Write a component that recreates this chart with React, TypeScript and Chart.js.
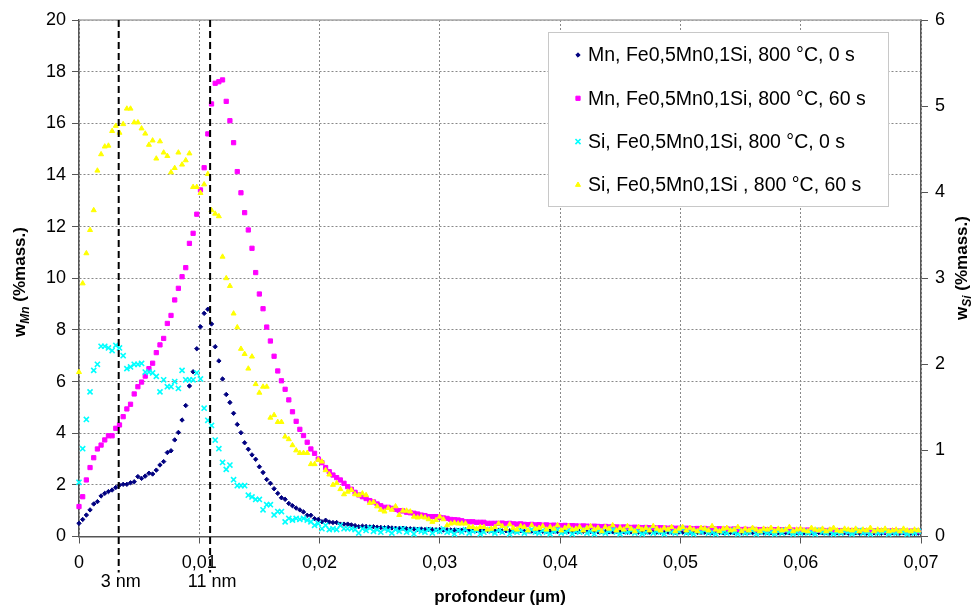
import React, { useEffect, useRef } from "react";
import { Chart, registerables } from "chart.js";

Chart.register(...registerables);

const FONT_FAMILY = '"Liberation Sans", Arial, Helvetica, sans-serif';

// sampling interval of the depth profile (µm)
const DEPTH_STEP_UM = 0.000306;

const X_MIN = 0;
const X_MAX = 0.07;
const X_STEP = 0.01;
const Y_LEFT_MAX = 20;
const Y_LEFT_STEP = 2;
const Y_RIGHT_MAX = 6;
const Y_RIGHT_STEP = 1;

const X_TITLE = "profondeur (µm)";
const Y_LEFT_TITLE = { base: "w", sub: "Mn", rest: " (%mass.)" };
const Y_RIGHT_TITLE = { base: "w", sub: "Si", rest: " (%mass.)" };

const MARKER_DEPTHS = [0.0033, 0.0109];
const MARKER_LABELS = ["3 nm", "11 nm"];

const SERIES_LABELS = [
  "Mn, Fe0,5Mn0,1Si, 800 °C, 0 s",
  "Mn, Fe0,5Mn0,1Si, 800 °C, 60 s",
  "Si, Fe0,5Mn0,1Si, 800 °C, 0 s",
  "Si, Fe0,5Mn0,1Si , 800 °C, 60 s",
];

// Mn, 0 s  (left axis, %mass.)
const MN_0S = [
  0.51, 0.66, 0.83, 1.03, 1.26, 1.35, 1.57, 1.67, 1.74, 1.80, 1.90, 1.99, 2.02, 2.02, 2.08, 2.12, 2.32, 2.25, 2.34, 2.45, 2.42, 2.57,
  2.77, 2.90, 3.25, 3.32, 3.74, 4.03, 4.51, 5.07, 5.83, 6.38, 7.27, 8.12, 8.64, 8.80, 8.23, 7.35, 6.80, 6.10, 5.50, 5.19,
  4.77, 4.34, 4.02, 3.63, 3.38, 3.16, 2.99, 2.70, 2.48, 2.21, 2.06, 1.85, 1.67, 1.50, 1.44, 1.28, 1.19, 1.10, 1.03, 0.95,
  0.82, 0.82, 0.69, 0.66, 0.57, 0.63, 0.56, 0.54, 0.54, 0.48, 0.48, 0.48, 0.45, 0.42, 0.38,
  0.40, 0.39, 0.37, 0.38, 0.36, 0.35, 0.34, 0.35, 0.33, 0.32, 0.31, 0.32, 0.30, 0.30, 0.29, 0.28, 0.29, 0.27, 0.28, 0.27, 0.26, 0.27, 0.25, 0.26,
  0.25, 0.25, 0.24, 0.24, 0.25, 0.23, 0.24, 0.23, 0.23, 0.22, 0.23, 0.22, 0.22, 0.23, 0.21, 0.22, 0.22, 0.21, 0.21, 0.22, 0.20, 0.21, 0.21, 0.20,
  0.21, 0.20, 0.20, 0.21, 0.20, 0.19, 0.20, 0.20, 0.19, 0.20, 0.19, 0.19, 0.20, 0.18, 0.19, 0.19, 0.18, 0.19, 0.19, 0.18, 0.18, 0.19, 0.18, 0.18,
  0.17, 0.18, 0.18, 0.17, 0.18, 0.17, 0.17, 0.18, 0.17, 0.17, 0.16, 0.17, 0.17, 0.16, 0.17, 0.17, 0.16, 0.16, 0.17, 0.16, 0.16, 0.17, 0.16, 0.15,
  0.16, 0.16, 0.15, 0.16, 0.16, 0.15, 0.16, 0.15, 0.15, 0.16, 0.15, 0.15, 0.16, 0.15, 0.14, 0.15, 0.15, 0.14, 0.15, 0.15, 0.14, 0.15, 0.14, 0.15,
  0.14, 0.15, 0.14, 0.14, 0.15, 0.14, 0.14, 0.13, 0.14, 0.14, 0.15, 0.14, 0.13, 0.14, 0.14, 0.13, 0.14, 0.13, 0.14, 0.14, 0.13, 0.13, 0.14, 0.13,
  0.14, 0.13, 0.13, 0.14, 0.13, 0.13, 0.12, 0.13,
];

// Mn, 60 s  (left axis, %mass.)
const MN_60S = [
  1.16, 1.54, 2.19, 2.67, 3.05, 3.39, 3.54, 3.74, 3.90, 3.90, 4.19, 4.32, 4.64, 4.94, 5.12, 5.52, 5.80, 5.98, 6.21, 6.50,
  6.71, 7.12, 7.42, 7.67, 8.25, 8.56, 9.16, 9.61, 10.06, 10.41, 11.35, 11.74, 12.48, 13.42, 14.28, 15.59, 16.75, 17.55, 17.61, 17.68,
  16.85, 16.10, 15.25, 14.13, 13.31, 12.54, 11.87, 11.16, 10.22, 9.39, 8.82, 8.11, 7.57, 6.98,
  6.41, 6.03, 5.70, 5.29, 4.83, 4.46, 4.15, 3.91, 3.65, 3.39, 3.22,
  3.00, 2.86, 2.67, 2.51, 2.38, 2.28, 2.19, 2.06, 1.93, 1.83, 1.71, 1.61, 1.54, 1.47, 1.39, 1.34, 1.26, 1.19, 1.13, 1.13,
  1.09, 1.05, 1.00, 0.99, 0.94, 0.92, 0.90, 0.87, 0.83, 0.81, 0.77, 0.77, 0.77, 0.74, 0.72, 0.70, 0.66, 0.65, 0.64, 0.61,
  0.57, 0.57, 0.57, 0.55, 0.55, 0.55, 0.51, 0.51, 0.51, 0.51,
  0.52, 0.50, 0.51, 0.49, 0.48, 0.49, 0.47, 0.46, 0.47, 0.45, 0.46, 0.44, 0.45, 0.43, 0.44, 0.43, 0.42, 0.43, 0.41, 0.42, 0.41, 0.40, 0.41, 0.40,
  0.39, 0.40, 0.39, 0.38, 0.39, 0.37, 0.38, 0.37, 0.36, 0.37, 0.36, 0.35, 0.36, 0.35, 0.34, 0.35, 0.34, 0.34, 0.33, 0.34, 0.33, 0.32, 0.33, 0.32,
  0.32, 0.31, 0.32, 0.31, 0.30, 0.31, 0.30, 0.31, 0.29, 0.30, 0.29, 0.30, 0.28, 0.29, 0.28, 0.29, 0.28, 0.27, 0.28, 0.27, 0.28, 0.27, 0.26, 0.27,
  0.26, 0.27, 0.26, 0.25, 0.26, 0.25, 0.26, 0.25, 0.24, 0.25, 0.24, 0.25, 0.24, 0.23, 0.24, 0.24, 0.23, 0.24, 0.23, 0.22, 0.23, 0.23, 0.22, 0.23,
  0.22, 0.23, 0.22, 0.21, 0.22, 0.22, 0.21, 0.22, 0.21, 0.21, 0.22, 0.20, 0.21, 0.21, 0.20, 0.21, 0.20, 0.21,
];

// Si, 0 s  (right axis, %mass.)
const SI_0S = [
  0.63, 1.02, 1.36, 1.68, 1.93, 2.00, 2.21, 2.21, 2.19, 2.16, 2.22, 2.19, 2.10, 1.95, 1.97, 2.00, 2.00, 2.01, 1.91, 1.91,
  1.90, 1.86, 1.68, 1.82, 1.74, 1.74, 1.80, 1.72, 1.93, 1.82, 1.82, 1.82, 1.90, 1.83,
  1.49, 1.35, 1.29, 1.12, 1.02, 0.86, 0.78, 0.83, 0.66, 0.59, 0.59, 0.59, 0.48, 0.46, 0.43, 0.43, 0.31, 0.37, 0.37, 0.25,
  0.29, 0.29, 0.17, 0.21, 0.19, 0.21, 0.20, 0.21, 0.19, 0.17, 0.13, 0.15, 0.09, 0.13, 0.08, 0.09, 0.08, 0.13, 0.09, 0.09,
  0.09, 0.08, 0.04,
  0.09, 0.07, 0.10, 0.06, 0.08, 0.05, 0.09, 0.07, 0.04, 0.08, 0.06, 0.09, 0.05, 0.07, 0.03, 0.08, 0.06, 0.05, 0.08, 0.04, 0.07, 0.06, 0.09, 0.05,
  0.06, 0.03, 0.07, 0.05, 0.08, 0.04, 0.06, 0.07, 0.03, 0.05, 0.08, 0.06, 0.04, 0.07, 0.05, 0.09, 0.03, 0.06, 0.05, 0.07, 0.04, 0.06, 0.08, 0.05,
  0.04, 0.07, 0.05, 0.03, 0.06, 0.08, 0.04, 0.05, 0.07, 0.03, 0.06, 0.05, 0.08, 0.04, 0.06, 0.03, 0.07, 0.05, 0.04, 0.06, 0.08, 0.05, 0.03, 0.06,
  0.05, 0.07, 0.04, 0.06, 0.03, 0.05, 0.08, 0.04, 0.06, 0.05, 0.03, 0.07, 0.05, 0.04, 0.06, 0.09, 0.04, 0.05, 0.03, 0.06, 0.05, 0.07, 0.04, 0.05,
  0.03, 0.06, 0.05, 0.04, 0.07, 0.05, 0.03, 0.06, 0.04, 0.05, 0.07, 0.03, 0.05, 0.06, 0.04, 0.05, 0.03, 0.06, 0.04, 0.07, 0.05, 0.03, 0.05, 0.04,
  0.06, 0.04, 0.05, 0.03, 0.07, 0.05, 0.04, 0.06, 0.03, 0.05, 0.04, 0.06, 0.05, 0.03, 0.05, 0.07, 0.04, 0.05, 0.03, 0.06, 0.04, 0.05, 0.06, 0.03,
  0.05, 0.04, 0.06, 0.05, 0.03, 0.05, 0.04, 0.06,
];

// Si, 60 s  (right axis, %mass.)
const SI_60S = [
  1.91, 2.94, 3.29, 3.56, 3.79, 4.25, 4.44, 4.53, 4.54, 4.71, 4.77, 4.69, 4.79, 4.97, 4.97, 4.81, 4.81, 4.74, 4.68, 4.55,
  4.60, 4.39, 4.59, 4.46, 4.42, 4.23, 4.28, 4.46, 4.32, 4.37, 4.45, 4.06, 4.06, 3.99, 4.09, 4.21, 3.79, 3.75, 3.72, 3.25,
  3.00, 2.91, 2.59, 2.43, 2.18, 2.12, 1.95, 2.09, 1.77, 1.67, 1.74, 1.74, 1.38, 1.41,
  1.33, 1.33, 1.16, 1.13, 1.06, 1.00, 0.97, 0.97, 0.97, 0.84, 0.84, 0.89, 0.87, 0.77, 0.72, 0.60, 0.62, 0.55, 0.49, 0.52,
  0.54, 0.49, 0.48, 0.50, 0.48, 0.39, 0.40, 0.35, 0.31, 0.29, 0.33, 0.31, 0.35, 0.25, 0.30, 0.30, 0.29, 0.23, 0.22, 0.23,
  0.22, 0.20, 0.17, 0.19, 0.23, 0.20, 0.13, 0.15, 0.16, 0.15, 0.15, 0.15, 0.11, 0.11, 0.09, 0.11, 0.11, 0.08, 0.09, 0.11,
  0.15,
  0.12, 0.09, 0.14, 0.10, 0.08, 0.12, 0.11, 0.07, 0.13, 0.09, 0.10, 0.12, 0.08, 0.11, 0.09, 0.13, 0.07, 0.10, 0.12, 0.08, 0.09, 0.11, 0.07, 0.10,
  0.12, 0.08, 0.10, 0.06, 0.11, 0.09, 0.13, 0.07, 0.10, 0.08, 0.12, 0.09, 0.06, 0.11, 0.08, 0.10, 0.07, 0.12, 0.09, 0.07, 0.10, 0.08, 0.11, 0.06,
  0.09, 0.11, 0.07, 0.10, 0.08, 0.06, 0.10, 0.09, 0.07, 0.12, 0.08, 0.06, 0.09, 0.10, 0.07, 0.08, 0.11, 0.06, 0.09, 0.07, 0.10, 0.08, 0.06, 0.09,
  0.08, 0.10, 0.06, 0.09, 0.07, 0.08, 0.11, 0.06, 0.08, 0.09, 0.07, 0.06, 0.10, 0.08, 0.07, 0.09, 0.06, 0.08, 0.10, 0.07, 0.06, 0.09, 0.08, 0.07,
  0.09, 0.06, 0.08, 0.07, 0.10, 0.06, 0.08, 0.07, 0.09, 0.06, 0.07, 0.08, 0.06, 0.09, 0.07, 0.06, 0.08, 0.07,
];

type MarkerStyle = {
  pointStyle: string;
  radius: number;
  color: string;
  borderWidth: number;
};

const STYLES: MarkerStyle[] = [
  { pointStyle: "rectRot", radius: 2.2, color: "#000080", borderWidth: 1 },
  { pointStyle: "rect", radius: 3, color: "#FF00FF", borderWidth: 1 },
  { pointStyle: "crossRot", radius: 3.6, color: "#00FFFF", borderWidth: 1.6 },
  { pointStyle: "triangle", radius: 2.9, color: "#FFFF00", borderWidth: 1 },
];

const SERIES_VALUES = [MN_0S, MN_60S, SI_0S, SI_60S];
const SERIES_AXES = ["y", "y", "y1", "y1"];

function toPoints(values: number[]) {
  return values.map((v, i) => ({ x: i * DEPTH_STEP_UM, y: v }));
}

function drawMarker(ctx: CanvasRenderingContext2D, s: MarkerStyle, x: number, y: number) {
  ctx.save();
  ctx.fillStyle = s.color;
  ctx.strokeStyle = s.color;
  ctx.lineWidth = s.borderWidth;
  ctx.setLineDash([]);
  const r = s.radius;
  ctx.beginPath();
  if (s.pointStyle === "rectRot") {
    ctx.moveTo(x, y - r);
    ctx.lineTo(x + r, y);
    ctx.lineTo(x, y + r);
    ctx.lineTo(x - r, y);
    ctx.closePath();
    ctx.fill();
    ctx.stroke();
  } else if (s.pointStyle === "rect") {
    const h = r * Math.SQRT1_2;
    ctx.rect(x - h, y - h, 2 * h, 2 * h);
    ctx.fill();
    ctx.stroke();
  } else if (s.pointStyle === "crossRot") {
    const h = r * Math.SQRT1_2;
    ctx.moveTo(x - h, y - h);
    ctx.lineTo(x + h, y + h);
    ctx.moveTo(x + h, y - h);
    ctx.lineTo(x - h, y + h);
    ctx.stroke();
  } else {
    ctx.moveTo(x, y - r);
    ctx.lineTo(x + r * 0.866, y + r * 0.5);
    ctx.lineTo(x - r * 0.866, y + r * 0.5);
    ctx.closePath();
    ctx.fill();
    ctx.stroke();
  }
  ctx.restore();
}

function drawRotatedTitle(
  ctx: CanvasRenderingContext2D,
  cx: number,
  cy: number,
  t: { base: string; sub: string; rest: string }
) {
  const fMain = `bold 17px ${FONT_FAMILY}`;
  const fSub = `italic bold 12px ${FONT_FAMILY}`;
  ctx.save();
  ctx.translate(cx, cy);
  ctx.rotate(-Math.PI / 2);
  ctx.fillStyle = "#000";
  ctx.textBaseline = "alphabetic";
  ctx.textAlign = "left";
  ctx.font = fMain;
  const w1 = ctx.measureText(t.base).width;
  const w3 = ctx.measureText(t.rest).width;
  ctx.font = fSub;
  const w2 = ctx.measureText(t.sub).width;
  let x = -(w1 + w2 + w3) / 2;
  const base = 6;
  ctx.font = fMain;
  ctx.fillText(t.base, x, base);
  x += w1;
  ctx.font = fSub;
  ctx.fillText(t.sub, x, base + 4);
  x += w2;
  ctx.font = fMain;
  ctx.fillText(t.rest, x, base);
  ctx.restore();
}

const decorPlugin = {
  id: "decor",
  beforeDatasetsDraw(chart: any) {
    const { ctx, chartArea: ca } = chart;
    ctx.save();
    ctx.strokeStyle = "#a6a6a6";
    ctx.lineWidth = 1.5;
    ctx.setLineDash([]);
    ctx.beginPath();
    ctx.moveTo(ca.left, ca.top);
    ctx.lineTo(ca.right, ca.top);
    ctx.stroke();
    ctx.restore();
  },
  afterDraw(chart: any) {
    const { ctx, chartArea: ca, scales } = chart;
    const xs = scales.x;

    // depth markers
    ctx.save();
    ctx.strokeStyle = "#000";
    ctx.lineWidth = 2;
    ctx.setLineDash([7, 4]);
    MARKER_DEPTHS.forEach((d) => {
      const px = xs.getPixelForValue(d);
      ctx.beginPath();
      ctx.moveTo(px, ca.top);
      ctx.lineTo(px, ca.bottom + 36);
      ctx.stroke();
    });
    ctx.setLineDash([]);
    ctx.fillStyle = "#000";
    ctx.font = `18px ${FONT_FAMILY}`;
    ctx.textAlign = "center";
    ctx.textBaseline = "middle";
    MARKER_DEPTHS.forEach((d, i) => {
      const px = xs.getPixelForValue(d);
      ctx.fillText(MARKER_LABELS[i], px + 2, ca.bottom + 46);
    });

    // x title
    ctx.font = `bold 17px ${FONT_FAMILY}`;
    ctx.fillText(X_TITLE, (ca.left + ca.right) / 2, ca.bottom + 61);
    ctx.restore();

    // y titles
    drawRotatedTitle(ctx, 19, 282, Y_LEFT_TITLE);
    drawRotatedTitle(ctx, 961, 268, Y_RIGHT_TITLE);

    // legend
    const lx = 548;
    const ly = 32;
    const lw = 340;
    const lh = 174;
    ctx.save();
    ctx.fillStyle = "#fff";
    ctx.fillRect(lx, ly, lw, lh);
    ctx.strokeStyle = "#c8c8c8";
    ctx.lineWidth = 1;
    ctx.strokeRect(lx + 0.5, ly + 0.5, lw, lh);
    ctx.font = `19.5px ${FONT_FAMILY}`;
    ctx.fillStyle = "#000";
    ctx.textAlign = "left";
    ctx.textBaseline = "middle";
    SERIES_LABELS.forEach((label, i) => {
      const y = ly + 23 + i * 43.3;
      drawMarker(ctx, STYLES[i], lx + 30, y);
      ctx.fillStyle = "#000";
      ctx.fillText(label, lx + 40, y + 1);
    });
    ctx.restore();
  },
};

export default function App() {
  const canvasRef = useRef<HTMLCanvasElement | null>(null);

  useEffect(() => {
    const canvas = canvasRef.current;
    if (!canvas) return;

    const datasets = SERIES_VALUES.map((vals, i) => ({
      label: SERIES_LABELS[i],
      data: toPoints(vals),
      yAxisID: SERIES_AXES[i],
      showLine: false,
      pointStyle: STYLES[i].pointStyle,
      pointRadius: STYLES[i].radius,
      pointHoverRadius: STYLES[i].radius,
      pointBackgroundColor: STYLES[i].color,
      pointBorderColor: STYLES[i].color,
      pointBorderWidth: STYLES[i].borderWidth,
      clip: false,
      order: 4 - i,
    }));

    const tickFont = { family: FONT_FAMILY, size: 18 };

    const chart = new Chart(canvas, {
      type: "scatter",
      data: { datasets } as any,
      options: {
        animation: false,
        responsive: false,
        devicePixelRatio: 1,
        layout: { padding: { top: 20, left: 0, right: 0, bottom: 0 } },
        plugins: {
          legend: { display: false },
          tooltip: { enabled: false },
        },
        scales: {
          x: {
            type: "linear",
            position: "bottom",
            min: X_MIN,
            max: X_MAX,
            ticks: {
              stepSize: X_STEP,
              autoSkip: false,
              maxRotation: 0,
              padding: 9,
              color: "#000",
              font: tickFont,
              callback: (v: any) => {
                const n = Number(v);
                if (Math.abs(n) < 1e-9) return "0";
                return n.toFixed(2).replace(".", ",");
              },
            },
            grid: {
              color: "#888888",
              lineWidth: 1,
              tickColor: "#555",
              tickLength: 7,
              tickWidth: 1,
              tickBorderDash: [],
            },
            border: { display: true, color: "#555", width: 1.5, dash: [2, 2] },
            afterFit: (s: any) => {
              s.height = 70.5;
            },
          },
          y: {
            type: "linear",
            position: "left",
            min: 0,
            max: Y_LEFT_MAX,
            ticks: {
              stepSize: Y_LEFT_STEP,
              padding: 6,
              color: "#000",
              font: tickFont,
            },
            grid: {
              color: "#888888",
              lineWidth: 1,
              tickColor: "#555",
              tickLength: 7,
              tickWidth: 1,
              tickBorderDash: [],
            },
            border: { display: true, color: "#555", width: 1.5, dash: [2, 2] },
            afterFit: (s: any) => {
              s.width = 79;
            },
          },
          y1: {
            type: "linear",
            position: "right",
            min: 0,
            max: Y_RIGHT_MAX,
            ticks: {
              stepSize: Y_RIGHT_STEP,
              padding: 7,
              color: "#000",
              font: tickFont,
            },
            grid: {
              drawOnChartArea: false,
              color: "#555",
              tickLength: 7,
              tickWidth: 1,
            },
            border: { display: true, color: "#555", width: 1.5 },
            afterFit: (s: any) => {
              s.width = 53;
            },
          },
        },
      } as any,
      plugins: [decorPlugin as any],
    });

    return () => {
      chart.destroy();
    };
  }, []);

  return (
    <div
      style={{
        position: "fixed",
        left: 0,
        top: 0,
        width: 974,
        height: 607,
        background: "#fff",
      }}
    >
      <canvas
        ref={canvasRef}
        width={974}
        height={607}
        style={{ display: "block", width: 974, height: 607 }}
      />
    </div>
  );
}
